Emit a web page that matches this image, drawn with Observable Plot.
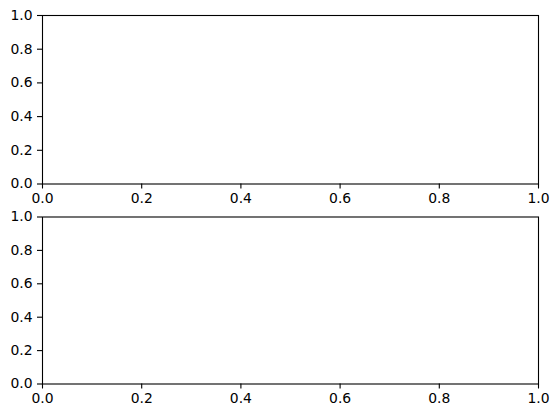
<!DOCTYPE html>
<html>
<head>
<meta charset="utf-8">
<script src="https://cdn.jsdelivr.net/npm/d3@7"></script>
<script src="https://cdn.jsdelivr.net/npm/@observablehq/plot@0.6"></script>
<style>
  html, body { margin: 0; padding: 0; background: #fff; }
  #chart { width: 558px; height: 418px; }
  #chart svg { display: block; overflow: visible; }
  #chart svg text { font-family: "DejaVu Sans", sans-serif !important; font-size: 13.9px !important; fill: black; }
</style>
</head>
<body>
<div id="chart"></div>
<script>
const xDomain = [0, 1];
const yDomain = [0, 1];
const xTicks = [0, 0.2, 0.4, 0.6, 0.8, 1.0];
const yTicks = [0, 0.2, 0.4, 0.6, 0.8, 1.0];

function panel(height, marginTop, marginBottom) {
  return Plot.plot({
    width: 558,
    height,
    marginLeft: 42,
    marginRight: 20,
    marginTop,
    marginBottom,
    style: { fontFamily: "DejaVu Sans", fontSize: "13.9px", color: "black", background: "white" },
    x: { domain: xDomain, label: null },
    y: { domain: yDomain, label: null },
    marks: [
      Plot.frame({ stroke: "black", strokeWidth: 1.1 }),
      Plot.axisX({ ticks: xTicks, tickFormat: d3.format(".1f"), tickSize: 5, tickPadding: 4.5, label: null, stroke: "black", strokeWidth: 1.1 }),
      Plot.axisY({ ticks: yTicks, tickFormat: d3.format(".1f"), tickSize: 5, tickPadding: 5, label: null, stroke: "black", strokeWidth: 1.1 })
    ]
  });
}

const el = document.getElementById("chart");
el.appendChild(panel(201, 15, 17.5));
el.appendChild(panel(217, 15.5, 34.5));
</script>
</body>
</html>
